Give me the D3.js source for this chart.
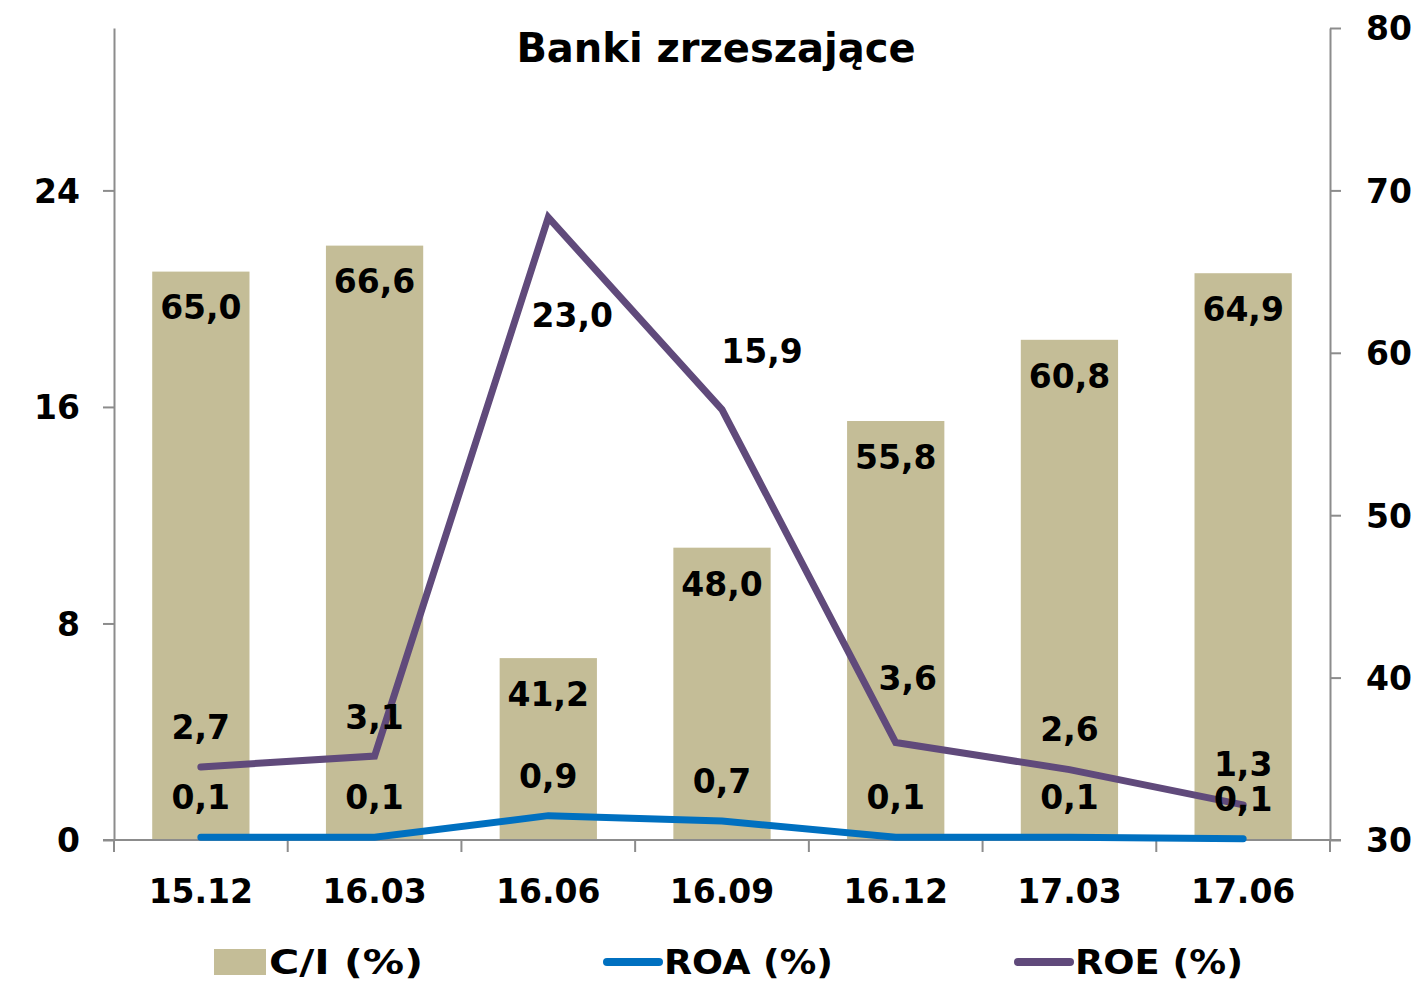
<!DOCTYPE html>
<html>
<head>
<meta charset="utf-8">
<script src="https://cdn.jsdelivr.net/npm/d3@7"></script>
<style>
  body { margin: 0; background: #fff; }
  text { font-family: "DejaVu Sans", Verdana, sans-serif; font-weight: bold; fill: #000; }
</style>
</head>
<body>
<script>
// data
const categories = ["15.12", "16.03", "16.06", "16.09", "16.12", "17.03", "17.06"];
const ciValues = [65.0, 66.6, 41.2, 48.0, 55.8, 60.8, 64.9];
const roaValues = [0.1, 0.1, 0.9, 0.7, 0.1, 0.1, 0.05];
const roaLabels = ["0,1", "0,1", "0,9", "0,7", "0,1", "0,1", "0,1"];
const roeValues = [2.7, 3.1, 23.0, 15.9, 3.6, 2.6, 1.3];
const leftTicks = [0, 8, 16, 24];
const rightTicks = [30, 40, 50, 60, 70, 80];

// label nudges for the ROE series (layout only)
const roeLabelShift = [[0, -40], [0, -39], [24, 98], [40, -59], [12, -64], [0, -41], [0, -41]];

const fmt = v => v.toFixed(1).replace(".", ",");

const width = 1422, height = 988;
const plot = { left: 114, right: 1330, top: 28, bottom: 840 };

const svg = d3.select("body").append("svg")
    .attr("width", width)
    .attr("height", height);

const x = d3.scaleBand()
    .domain(categories)
    .range([plot.left, plot.right])
    .paddingInner(0)
    .paddingOuter(0);

const yLeft = d3.scaleLinear().domain([0, 30]).range([plot.bottom, plot.top]);
const yRight = d3.scaleLinear().domain([30, 80]).range([plot.bottom, plot.top]);

const barW = x.bandwidth() * 0.56;
const cx = d => x(d) + x.bandwidth() / 2;

// bars (C/I on right axis)
svg.selectAll(".bar")
    .data(categories)
    .enter().append("rect")
    .attr("class", "bar")
    .attr("x", d => cx(d) - barW / 2)
    .attr("width", barW)
    .attr("y", (d, i) => yRight(ciValues[i]))
    .attr("height", (d, i) => yRight(30) - yRight(ciValues[i]))
    .style("fill", "#c4bd97");

// axes
const axisColor = "#8c8c8c";

const leftAxis = svg.append("g")
    .attr("transform", `translate(${plot.left},0)`)
    .call(d3.axisLeft(yLeft).tickValues(leftTicks).tickSize(11).tickSizeOuter(0).tickPadding(23));
const rightAxis = svg.append("g")
    .attr("transform", `translate(${plot.right},0)`)
    .call(d3.axisRight(yRight).tickValues(rightTicks).tickSize(11).tickSizeOuter(0).tickPadding(25));

const xTickPos = d3.range(categories.length + 1).map(i => plot.left + i * x.bandwidth());
const bottomAxis = svg.append("g");
bottomAxis.append("line")
    .attr("x1", plot.left - 11).attr("x2", plot.right + 11)
    .attr("y1", plot.bottom).attr("y2", plot.bottom)
    .style("stroke", axisColor).style("stroke-width", 2);
bottomAxis.selectAll(".xtick")
    .data(xTickPos)
    .enter().append("line")
    .attr("x1", d => d).attr("x2", d => d)
    .attr("y1", plot.bottom).attr("y2", plot.bottom + 12)
    .style("stroke", axisColor).style("stroke-width", 2);
bottomAxis.selectAll(".xlabel")
    .data(categories)
    .enter().append("text")
    .attr("x", d => cx(d))
    .attr("y", 903)
    .attr("text-anchor", "middle")
    .style("font-size", "33px")
    .text(d => d);

[leftAxis, rightAxis].forEach(g => {
    g.select(".domain").style("stroke", axisColor).style("stroke-width", 2);
    g.selectAll(".tick line").style("stroke", axisColor).style("stroke-width", 2);
    g.selectAll(".tick text").style("font-size", "33px").style("font-family", "DejaVu Sans").style("font-weight", "bold").attr("dy", "0.36em");
});

// lines
const lineLeft = d3.line()
    .x((d, i) => cx(categories[i]))
    .y(d => yLeft(d));

svg.append("path")
    .datum(roeValues)
    .attr("d", lineLeft)
    .style("fill", "none")
    .style("stroke", "#604a7b")
    .style("stroke-width", 7)
    .style("stroke-linecap", "round")
    .style("stroke-linejoin", "miter");

svg.append("path")
    .datum(roaValues)
    .attr("d", lineLeft)
    .style("fill", "none")
    .style("stroke", "#0070c0")
    .style("stroke-width", 7)
    .style("stroke-linecap", "round");

// data labels
svg.selectAll(".ciLabel")
    .data(categories)
    .enter().append("text")
    .attr("x", d => cx(d))
    .attr("y", (d, i) => yRight(ciValues[i]) + 36)
    .attr("dy", "0.36em")
    .attr("text-anchor", "middle")
    .style("font-size", "33px")
    .text((d, i) => fmt(ciValues[i]));

svg.selectAll(".roaLabel")
    .data(categories)
    .enter().append("text")
    .attr("x", d => cx(d))
    .attr("y", (d, i) => yLeft(roaValues[i]) - 40)
    .attr("dy", "0.36em")
    .attr("text-anchor", "middle")
    .style("font-size", "33px")
    .text((d, i) => roaLabels[i]);

svg.selectAll(".roeLabel")
    .data(categories)
    .enter().append("text")
    .attr("x", (d, i) => cx(d) + roeLabelShift[i][0])
    .attr("y", (d, i) => yLeft(roeValues[i]) + roeLabelShift[i][1])
    .attr("dy", "0.36em")
    .attr("text-anchor", "middle")
    .style("font-size", "33px")
    .text((d, i) => fmt(roeValues[i]));

// title
svg.append("text")
    .attr("x", 716)
    .attr("y", 62)
    .attr("text-anchor", "middle")
    .style("font-size", "40px")
    .text("Banki zrzeszające");

// legend
const legend = svg.append("g");
legend.append("rect")
    .attr("x", 214).attr("y", 949).attr("width", 52).attr("height", 26)
    .style("fill", "#c4bd97");
legend.append("text").attr("x", 269).attr("y", 962).attr("dy", "0.36em")
    .attr("textLength", 154).attr("lengthAdjust", "spacingAndGlyphs")
    .style("font-size", "34px").text("C/I (%)");

legend.append("line")
    .attr("x1", 607).attr("x2", 659).attr("y1", 962).attr("y2", 962)
    .style("stroke", "#0070c0").style("stroke-width", 8).style("stroke-linecap", "round");
legend.append("text").attr("x", 664).attr("y", 962).attr("dy", "0.36em")
    .attr("textLength", 169).attr("lengthAdjust", "spacingAndGlyphs")
    .style("font-size", "34px").text("ROA (%)");

legend.append("line")
    .attr("x1", 1018).attr("x2", 1070).attr("y1", 962).attr("y2", 962)
    .style("stroke", "#604a7b").style("stroke-width", 8).style("stroke-linecap", "round");
legend.append("text").attr("x", 1075).attr("y", 962).attr("dy", "0.36em")
    .attr("textLength", 168).attr("lengthAdjust", "spacingAndGlyphs")
    .style("font-size", "34px").text("ROE (%)");
</script>
</body>
</html>
